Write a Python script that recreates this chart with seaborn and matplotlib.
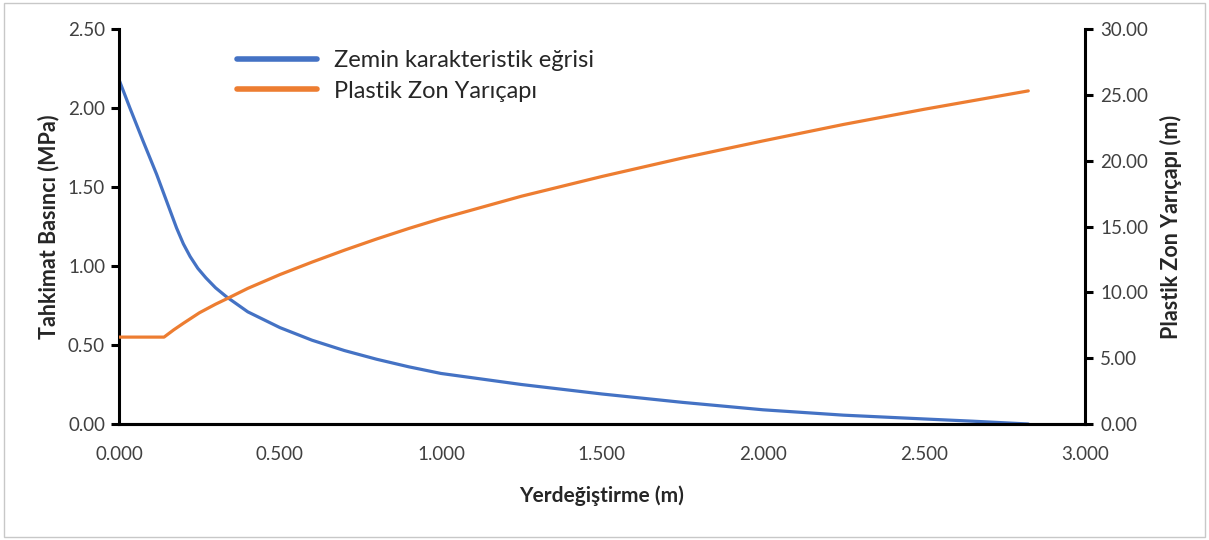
import numpy as np
import pandas as pd
import seaborn as sns
import matplotlib.pyplot as plt
from matplotlib.patches import Rectangle
from matplotlib.lines import Line2D

# values
disp_blue = [0.0, 0.034, 0.075, 0.117, 0.148, 0.179, 0.2, 0.221, 0.245, 0.27, 0.3, 0.334, 0.4, 0.5, 0.6,
             0.7, 0.8, 0.9, 1.0, 1.25, 1.5, 1.75, 2.0, 2.25, 2.5, 2.65, 2.824]
pressure = [2.18, 2.00, 1.79, 1.58, 1.41, 1.24, 1.14, 1.06, 0.985, 0.925, 0.862, 0.805, 0.71, 0.61, 0.53,
            0.465, 0.41, 0.362, 0.32, 0.25, 0.19, 0.137, 0.09, 0.056, 0.032, 0.018, 0.0]

disp_orange = [0.0, 0.14, 0.17, 0.2, 0.25, 0.3, 0.334, 0.4, 0.5, 0.6, 0.7, 0.8, 0.9, 1.0, 1.25, 1.5,
               1.75, 2.0, 2.25, 2.5, 2.824]
radius = [6.6, 6.6, 7.15, 7.65, 8.45, 9.1, 9.5, 10.3, 11.35, 12.3, 13.2, 14.05, 14.85, 15.6, 17.3, 18.8,
          20.2, 21.5, 22.75, 23.9, 25.3]

blue_name = "Zemin karakteristik eğrisi"
orange_name = "Plastik Zon Yarıçapı"

df_blue = pd.DataFrame({"x": disp_blue, "y": pressure})
df_orange = pd.DataFrame({"x": disp_orange, "y": radius})

sns.set_style("white")
plt.rcParams['font.family'] = ['Lato', 'DejaVu Sans']

BLUE = "#4472C4"
ORANGE = "#ED7D31"

fig = plt.figure(figsize=(12.09, 5.40), dpi=100)
ax = fig.add_axes([0.0984, 0.2148, 0.7990, 0.7315])
ax2 = ax.twinx()

sns.lineplot(data=df_blue, x="x", y="y", ax=ax, color=BLUE, linewidth=2.3, legend=False)
sns.lineplot(data=df_orange, x="x", y="y", ax=ax2, color=ORANGE, linewidth=2.3, legend=False)

ax.set_xlim(0, 3.0)
ax.set_ylim(0, 2.5)
ax2.set_ylim(0, 30)
ax.set_xticks(np.arange(0, 3.01, 0.5))
ax.set_yticks(np.arange(0, 2.51, 0.5))
ax2.set_yticks(np.arange(0, 30.1, 5))
ax.set_xticklabels([f"{v:.3f}" for v in np.arange(0, 3.01, 0.5)])
ax.set_yticklabels([f"{v:.2f}" for v in np.arange(0, 2.51, 0.5)])
ax2.set_yticklabels([f"{v:.2f}" for v in np.arange(0, 30.1, 5)])

for a in (ax, ax2):
    for s in a.spines.values():
        s.set_linewidth(2.2)
        s.set_color("black")
    a.spines["top"].set_visible(False)
    a.tick_params(colors="#404040", labelsize=13.5, length=6, width=2.2, direction="out")
    a.tick_params(axis="both", color="black")
ax.spines["right"].set_visible(False)
ax2.spines["left"].set_visible(False)
ax.tick_params(axis="x", pad=10)
ax.tick_params(axis="y", pad=4)
ax2.tick_params(axis="y", pad=5)

ax.set_xlabel("Yerdeğiştirme (m)", fontsize=15, fontweight="bold", color="#262626")
ax.xaxis.set_label_coords(0.5, -0.155)
ax.set_ylabel("Tahkimat Basıncı (MPa)", fontsize=15.5, fontweight="bold", color="#262626", labelpad=6)
ax2.set_ylabel("Plastik Zon Yarıçapı (m)", fontsize=15.5, fontweight="bold", color="#262626", labelpad=8)

handles = [Line2D([], [], color=BLUE, linewidth=4), Line2D([], [], color=ORANGE, linewidth=4)]
ax.legend(handles, [blue_name, orange_name], loc="upper left", bbox_to_anchor=(0.1, 1.0),
          frameon=False, fontsize=17, handlelength=3.4, handletextpad=0.7, labelspacing=0.4)

fig.patches.append(Rectangle((0.003, 0.006), 0.994, 0.988, transform=fig.transFigure,
                             fill=False, edgecolor="#c8c8c8", linewidth=1))

fig.savefig("out.png", dpi=100)
